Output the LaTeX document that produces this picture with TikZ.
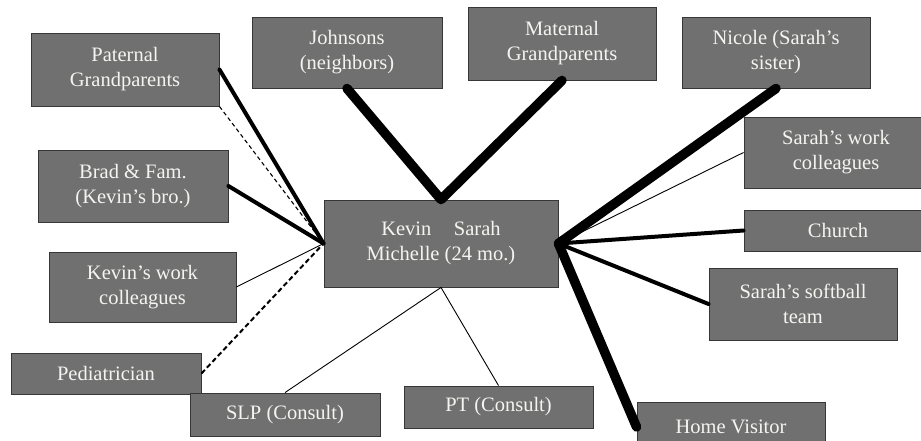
\documentclass[tikz,border=0pt]{standalone}
\usepackage{fontspec}
\setmainfont{Liberation Serif}
\usetikzlibrary{positioning}

\definecolor{boxgray}{RGB}{112,112,112}
\definecolor{boxedge}{RGB}{55,55,55}
\definecolor{boxtext}{RGB}{244,244,240}

\begin{document}
\begin{tikzpicture}[x=1pt,y=-1pt,
    tie/.style={draw=boxedge,fill=boxgray,text=boxtext,line width=0.9pt,
      align=center,inner sep=2pt,font=\fontsize{20.5}{25}\selectfont},
    weak/.style={line width=0.9pt},
    strong/.style={line width=4pt,line cap=round},
    vstrong/.style={line width=9.5pt,line cap=round,line join=round},
    stress/.style={dashed,line width=1.1pt,dash pattern=on 4pt off 3pt},
    vstress/.style={dashed,line width=2pt,dash pattern=on 5pt off 3pt}]
  \clip (0,0) rectangle (921,441);
  \fill[white] (0,0) rectangle (921,441);

  % family in the middle
  \node[tie,minimum width=234pt,minimum height=87pt] (fam) at (441,243.5)
    {Kevin\hspace{1.1em}Sarah\\Michelle (24 mo.)};

  % left side
  \node[tie,minimum width=188pt,minimum height=73pt] (pat) at (125,69.5) {Paternal\\Grandparents};
  \node[tie,minimum width=190pt,minimum height=72pt] (brad) at (133,186) {Brad \& Fam.\\(Kevin’s bro.)};
  \node[tie,minimum width=187pt,minimum height=70pt] (kwork) at (142.5,287) {Kevin’s work\\colleagues};
  \node[tie,minimum width=190pt,minimum height=41pt] (ped) at (106,373.5) {Pediatrician};

  % top
  \node[tie,minimum width=190pt,minimum height=71pt] (john) at (347,52.5) {Johnsons\\(neighbors)};
  \node[tie,minimum width=188pt,minimum height=73pt] (mat) at (562,43.5) {Maternal\\Grandparents};
  \node[tie,minimum width=188pt,minimum height=71pt] (nic) at (776,52.5) {Nicole (Sarah’s\\sister)};

  % right side, cut by the edge
  \node[tie,minimum width=184pt,minimum height=71pt] (swork) at (836,152.5) {Sarah’s work\\colleagues};
  \node[tie,minimum width=188pt,minimum height=41pt] (church) at (838,230.5) {Church};
  \node[tie,minimum width=188pt,minimum height=72pt] (soft) at (803,304) {Sarah’s softball\\team};

  % bottom
  \node[tie,minimum width=190pt,minimum height=43pt] (slp) at (285,414.5) {SLP (Consult)};
  \node[tie,minimum width=189pt,minimum height=42pt] (pt) at (498.5,407) {PT (Consult)};
  \node[tie,minimum width=188pt,minimum height=50pt] (home) at (731,427) {Home Visitor};

  % ties
  \draw[strong] (pat.east) -- (fam.west);
  \draw[stress] (pat.south east) -- (fam.west);
  \draw[strong] (brad.east) -- (fam.west);
  \draw[weak] (kwork.east) -- (fam.west);
  \draw[vstress] (ped.east) -- (fam.west);

  \draw[vstrong] (john.south) -- (fam.north) -- (mat.south);
  \draw[vstrong] (nic.south) -- (fam.east);

  \draw[weak] (swork.west) -- (fam.east);
  \draw[strong] (church.west) -- (fam.east);
  \draw[strong] (soft.west) -- (fam.east);
  \draw[vstrong] (home.west) -- (fam.east);

  \draw[weak] (slp.north) -- (fam.south);
  \draw[weak] (pt.north) -- (fam.south);
\end{tikzpicture}
\end{document}
